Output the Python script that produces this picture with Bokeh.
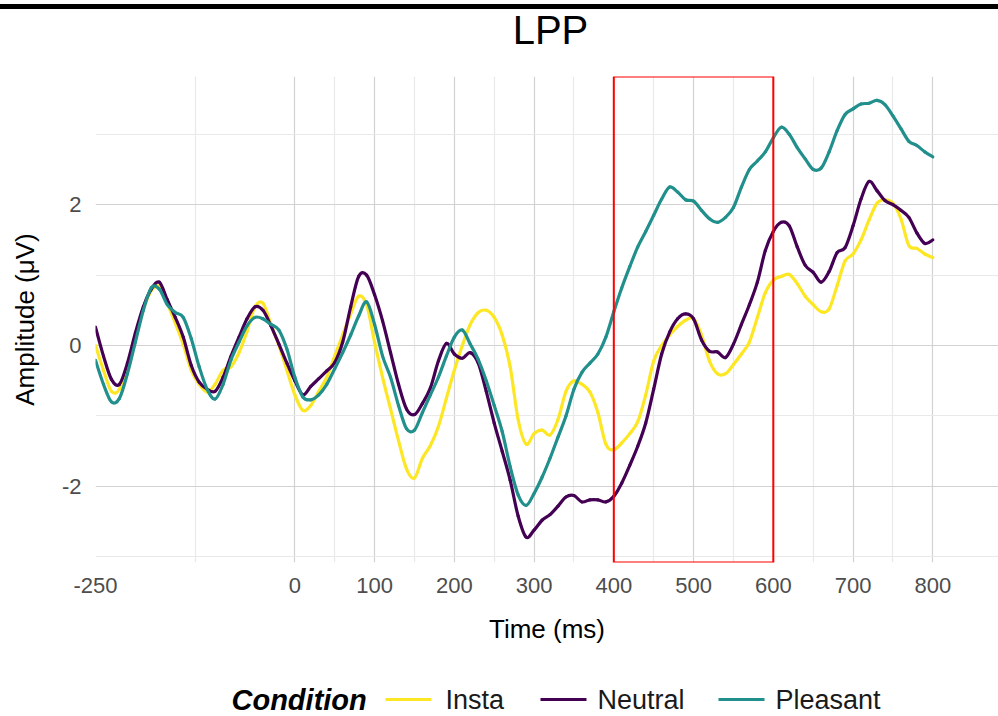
from bokeh.plotting import figure
from bokeh.models import Range1d, FixedTicker, BoxAnnotation, Div
from bokeh.layouts import column
from bokeh.core.properties import value
from bokeh.embed import file_html
from bokeh.resources import INLINE

FONT = "Liberation Sans"
W = 998
LEFT = 95  # left border shared by all stacked figures

# ---- data: grand-average LPP waveforms (µV), sampled every 10 ms ----
time_ms = list(range(-250, 801, 10))

insta = [
    0.00, -0.35, -0.65, -0.62, -0.28, 0.15, 0.52, 0.78, 0.84, 0.60,
    0.32, 0.02, -0.35, -0.55, -0.66, -0.55, -0.35, -0.30, -0.10, 0.20,
    0.55, 0.60, 0.30, 0.00, -0.35, -0.70, -0.92, -0.85, -0.65, -0.45,
    -0.15, 0.15, 0.45, 0.70, 0.58, 0.05, -0.45, -0.90, -1.35, -1.75,
    -1.88, -1.60, -1.42, -1.15, -0.75, -0.35, 0.00, 0.30, 0.47, 0.50,
    0.40, 0.15, -0.30, -1.05, -1.40, -1.25, -1.20, -1.27, -1.05, -0.65,
    -0.50, -0.55, -0.66, -0.95, -1.40, -1.48, -1.38, -1.25, -1.08, -0.70,
    -0.22, 0.00, 0.15, 0.27, 0.36, 0.38, 0.15, -0.22, -0.40, -0.40,
    -0.27, -0.12, 0.05, 0.40, 0.75, 0.93, 0.98, 1.01, 0.88, 0.70,
    0.58, 0.48, 0.52, 0.85, 1.20, 1.30, 1.50, 1.78, 2.02, 2.07,
    2.02, 1.80, 1.42, 1.38, 1.30, 1.25,
]

neutral = [
    0.26, -0.15, -0.48, -0.55, -0.25, 0.18, 0.55, 0.80, 0.90, 0.65,
    0.40, 0.12, -0.28, -0.52, -0.62, -0.65, -0.45, -0.15, 0.12, 0.38,
    0.55, 0.50, 0.28, 0.02, -0.25, -0.50, -0.70, -0.58, -0.47, -0.36,
    -0.24, 0.05, 0.55, 0.98, 1.00, 0.72, 0.35, -0.10, -0.55, -0.90,
    -0.98, -0.82, -0.60, -0.22, 0.03, -0.12, -0.18, -0.10, -0.25, -0.65,
    -1.10, -1.50, -1.91, -2.42, -2.72, -2.62, -2.48, -2.40, -2.28, -2.15,
    -2.13, -2.22, -2.19, -2.19, -2.22, -2.14, -1.95, -1.70, -1.43, -1.10,
    -0.62, -0.12, 0.19, 0.38, 0.45, 0.38, 0.08, -0.08, -0.09, -0.17,
    0.02, 0.30, 0.58, 0.90, 1.35, 1.62, 1.75, 1.70, 1.40, 1.14,
    1.04, 0.90, 1.05, 1.32, 1.39, 1.70, 2.08, 2.33, 2.20, 2.06,
    2.00, 1.92, 1.82, 1.60, 1.45, 1.50,
]

pleasant = [
    -0.21, -0.55, -0.80, -0.75, -0.40, 0.05, 0.50, 0.82, 0.80, 0.58,
    0.47, 0.40, 0.10, -0.30, -0.62, -0.76, -0.55, -0.20, 0.05, 0.28,
    0.40, 0.38, 0.30, 0.22, -0.05, -0.45, -0.73, -0.77, -0.70, -0.55,
    -0.33, -0.10, 0.15, 0.42, 0.62, 0.30, -0.15, -0.45, -0.85, -1.18,
    -1.20, -0.95, -0.70, -0.45, -0.15, 0.12, 0.22, 0.02, -0.20, -0.50,
    -0.85, -1.22, -1.72, -2.12, -2.27, -2.10, -1.87, -1.60, -1.30, -1.00,
    -0.62, -0.38, -0.25, -0.12, 0.12, 0.48, 0.82, 1.12, 1.40, 1.62,
    1.85, 2.08, 2.25, 2.18, 2.07, 2.05, 1.92, 1.80, 1.75, 1.82,
    1.96, 2.25, 2.50, 2.62, 2.75, 2.95, 3.10, 3.00, 2.81, 2.65,
    2.50, 2.52, 2.75, 3.05, 3.28, 3.36, 3.43, 3.44, 3.48, 3.42,
    3.26, 3.08, 2.90, 2.84, 2.75, 2.68,
]

conditions = ["Insta", "Neutral", "Pleasant"]
series = [insta, neutral, pleasant]
colors = ["#FDE725", "#440154", "#21908C"]

x_major = [-250, 0, 100, 200, 300, 400, 500, 600, 700, 800]
x_minor = [-125, 50, 150, 250, 350, 450, 550, 650, 750]
y_major = [-2, 0, 2]
y_minor = [-3, -1, 1, 3]
lpp_window = (400, 600)


def catmull_rom(xs, ys):
    """Cubic Bezier pieces of a Catmull-Rom spline through (xs, ys)."""
    n = len(xs)
    out = {k: [] for k in ("x0", "y0", "x1", "y1", "cx0", "cy0", "cx1", "cy1")}
    for i in range(n - 1):
        a = max(i - 1, 0)
        d = min(i + 2, n - 1)
        out["x0"].append(xs[i]); out["y0"].append(ys[i])
        out["x1"].append(xs[i + 1]); out["y1"].append(ys[i + 1])
        out["cx0"].append(xs[i] + (xs[i + 1] - xs[a]) / 6.0)
        out["cy0"].append(ys[i] + (ys[i + 1] - ys[a]) / 6.0)
        out["cx1"].append(xs[i + 1] - (xs[d] - xs[i]) / 6.0)
        out["cy1"].append(ys[i + 1] - (ys[d] - ys[i]) / 6.0)
    return out


def strip(height, y_top_down):
    fig = figure(width=W, height=height, x_range=Range1d(LEFT, W),
                 y_range=Range1d(y_top_down, 0),
                 x_axis_location=None, y_axis_location=None,
                 toolbar_location=None, output_backend="svg",
                 min_border_left=LEFT, min_border_right=0,
                 min_border_top=0, min_border_bottom=0)
    fig.grid.visible = False
    fig.outline_line_color = None
    fig.background_fill_color = "white"
    fig.border_fill_color = "white"
    return fig


# ---- header: black rule and title ----
rule = Div(text="", width=W, height=5, margin=(4, 0, 0, 0),
           styles={"background-color": "black"})

head = strip(51, 51)
head.text(x=[550], y=[20], text=["LPP"], text_font=value(FONT),
          text_font_size="40px", text_align="center", text_baseline="middle",
          text_color="black")

# ---- main panel ----
p = figure(width=W, height=600, x_range=Range1d(-250, 882.4), y_range=Range1d(-3.08, 3.82),
           toolbar_location=None, output_backend="svg",
           min_border_left=LEFT, min_border_right=0, min_border_top=16, min_border_bottom=98)
p.outline_line_color = None
p.background_fill_color = "white"
p.border_fill_color = "white"

p.xaxis.ticker = FixedTicker(ticks=x_major, minor_ticks=x_minor)
p.yaxis.ticker = FixedTicker(ticks=y_major, minor_ticks=y_minor)
p.xaxis.major_label_overrides = {-250: "-250"}
p.yaxis.major_label_overrides = {-2: "-2"}
for g in (p.xgrid, p.ygrid):
    g.grid_line_color = "#d2d2d2"
    g.grid_line_width = 1.2
    g.minor_grid_line_color = "#e9e9e9"
    g.minor_grid_line_width = 1.2

for ax in (p.xaxis, p.yaxis):
    ax.axis_line_color = None
    ax.major_tick_line_color = None
    ax.minor_tick_line_color = None
    ax.major_label_text_font = FONT
    ax.major_label_text_font_size = "22px"
    ax.major_label_text_color = "#4d4d4d"
    ax.axis_label_text_font = FONT
    ax.axis_label_text_font_size = "26px"
    ax.axis_label_text_font_style = "normal"
    ax.axis_label_text_color = "black"

p.xaxis.axis_label = "Time (ms)"
p.yaxis.axis_label = "Amplitude (\u03bcV)"
p.xaxis.major_label_standoff = 9
p.yaxis.major_label_standoff = 8
p.xaxis.axis_label_standoff = 18
p.yaxis.axis_label_standoff = 19

for vals, col in zip(series, colors):
    seg = catmull_rom(time_ms, vals)
    p.bezier(line_color=col, line_width=3.2, line_cap="round", **seg)

p.add_layout(BoxAnnotation(left=lpp_window[0], right=lpp_window[1],
                           fill_color=None, fill_alpha=0,
                           line_color="red", line_alpha=1.0, line_width=2))

# ---- legend strip ----
leg = strip(56, 56)
leg_y = 39
leg.text(x=[231], y=[leg_y], text=["Condition"], text_font=value(FONT),
         text_font_size="29px", text_font_style="bold italic",
         text_align="left", text_baseline="middle", text_color="black")
swatch_x0 = [385, 540, 718]
label_x = [445, 597, 775]
leg.segment(x0=swatch_x0, x1=[x + 46 for x in swatch_x0], y0=[leg_y] * 3, y1=[leg_y] * 3,
            line_color=colors, line_width=3)
leg.text(x=label_x, y=[leg_y] * 3, text=conditions, text_font=value(FONT),
         text_font_size="27px", text_align="left", text_baseline="middle",
         text_color="#1a1a1a")

layout = column(rule, head, p, leg, spacing=0)
open("out.html", "w").write(file_html(layout, INLINE))
